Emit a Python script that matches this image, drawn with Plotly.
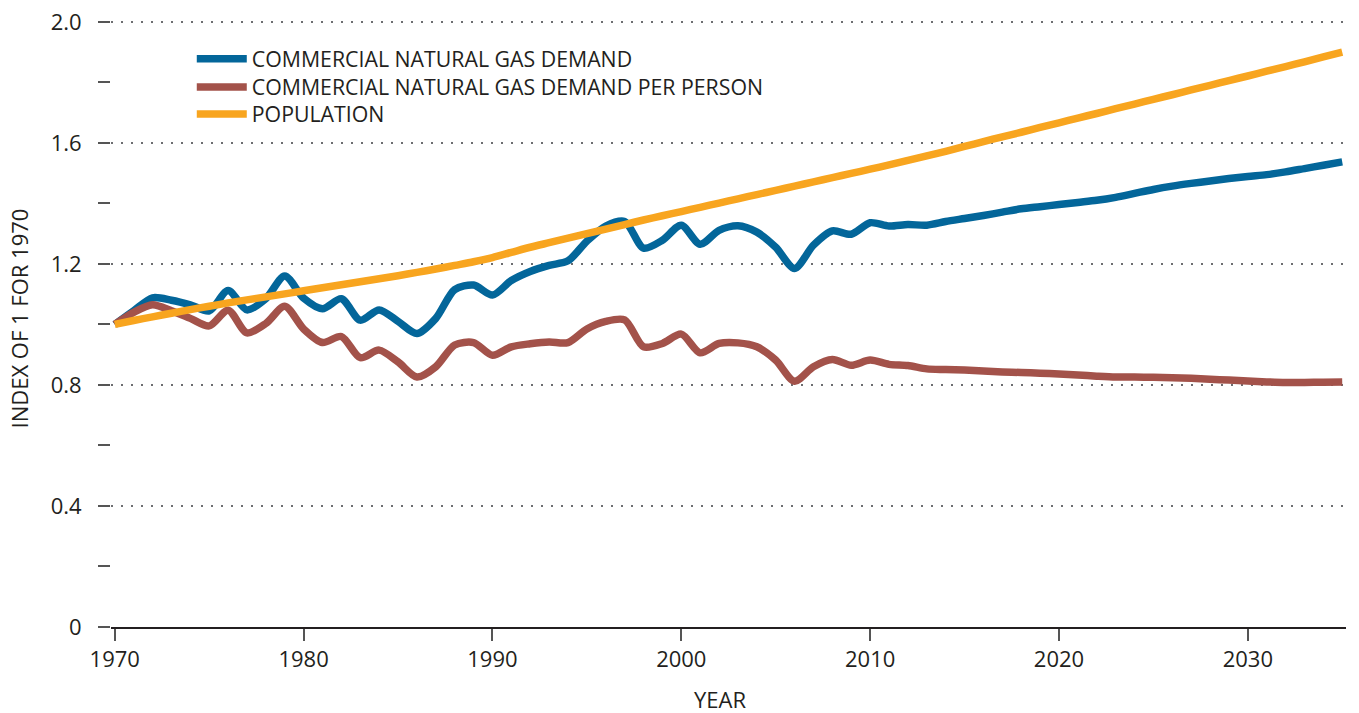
import plotly.graph_objects as go

years = list(range(1970, 2036))

gas_demand = [
    1.000, 1.045, 1.088, 1.080, 1.065, 1.045, 1.112, 1.048, 1.085, 1.160,
    1.087, 1.052, 1.085, 1.014, 1.048, 1.010, 0.970, 1.020, 1.115, 1.130,
    1.097, 1.145, 1.175, 1.195, 1.210, 1.275, 1.325, 1.340, 1.252, 1.278,
    1.328, 1.265, 1.311, 1.326, 1.305, 1.255, 1.185, 1.262, 1.309, 1.298,
    1.336, 1.325, 1.330, 1.328, 1.340, 1.350, 1.360, 1.371, 1.382, 1.389,
    1.396, 1.403, 1.410, 1.420, 1.433, 1.446, 1.457, 1.466, 1.474, 1.482,
    1.489, 1.495, 1.504, 1.515, 1.526, 1.537,
]

gas_per_person = [
    1.000, 1.040, 1.065, 1.045, 1.020, 0.995, 1.047, 0.972, 1.003, 1.060,
    0.985, 0.940, 0.960, 0.890, 0.915, 0.876, 0.826, 0.860, 0.932, 0.940,
    0.898, 0.926, 0.936, 0.942, 0.940, 0.985, 1.010, 1.015, 0.926, 0.937,
    0.968, 0.906, 0.937, 0.939, 0.926, 0.882, 0.812, 0.860, 0.884, 0.865,
    0.882, 0.868, 0.864, 0.853, 0.851, 0.849, 0.846, 0.843, 0.841, 0.839,
    0.836, 0.833, 0.829, 0.826, 0.826, 0.825, 0.824, 0.822, 0.819, 0.816,
    0.813, 0.810, 0.808, 0.808, 0.809, 0.810,
]

population = [
    1.000, 1.013, 1.025, 1.037, 1.049, 1.060, 1.071, 1.081, 1.091, 1.101,
    1.111, 1.121, 1.131, 1.141, 1.151, 1.161, 1.172, 1.183, 1.195, 1.207,
    1.221, 1.238, 1.255, 1.270, 1.285, 1.300, 1.315, 1.330, 1.345, 1.359,
    1.373, 1.387, 1.401, 1.415, 1.429, 1.443, 1.457, 1.471, 1.485, 1.499,
    1.513, 1.527, 1.542, 1.557, 1.572, 1.588, 1.604, 1.620, 1.635, 1.651,
    1.666, 1.682, 1.697, 1.713, 1.728, 1.744, 1.759, 1.775, 1.790, 1.806,
    1.821, 1.837, 1.852, 1.868, 1.884, 1.900,
]

series_names = [
    "COMMERCIAL NATURAL GAS DEMAND",
    "COMMERCIAL NATURAL GAS DEMAND PER PERSON",
    "POPULATION",
]
series_colors = ["#03669a", "#a3524a", "#f8a51f"]

x_tick_vals = [1970, 1980, 1990, 2000, 2010, 2020, 2030]
y_tick_vals = [0, 0.4, 0.8, 1.2, 1.6, 2.0]
y_tick_text = ["0", "0.4", "0.8", "1.2", "1.6", "2.0"]

FONT = "Open Sans"
TXT = "#231f20"

# page body has an 8px default margin; figure sized to fit the window
OFF = 8
W, H = 1359 - OFF, 713 - OFF
Y_MAX = 2.006
PLOT_LEFT, PLOT_RIGHT, PLOT_TOP, PLOT_BOTTOM = 111.2, 1346.5, 20.0, 626.7  # page px
L = PLOT_LEFT - OFF
R = W - (PLOT_RIGHT - OFF)
T = PLOT_TOP - OFF
B = H - (PLOT_BOTTOM - OFF)
plot_w = W - L - R
plot_h = H - T - B


def px_to_paper_x(px):
    return (px - PLOT_LEFT) / plot_w


def px_to_paper_y(py):
    return (PLOT_BOTTOM - py) / plot_h


legend_ids = ["legend", "legend2", "legend3"]
legend_centers_px = [59, 87, 114]

fig = go.Figure()
for name, vals, col, lid in zip(series_names, [gas_demand, gas_per_person, population],
                                series_colors, legend_ids):
    fig.add_trace(go.Scatter(
        x=years, y=vals, name=name, mode="lines", legend=lid,
        line=dict(color=col, width=7.5, shape="spline", smoothing=0.8),
    ))

legend_layout = {}
for lid, cy in zip(legend_ids, legend_centers_px):
    legend_layout[lid] = dict(
        x=px_to_paper_x(192), y=px_to_paper_y(cy),
        xanchor="left", yanchor="middle",
        bgcolor="rgba(0,0,0,0)",
        font=dict(size=21.3, family=FONT, color=TXT),
        itemwidth=50,
    )

fig.update_layout(
    width=W, height=H,
    margin=dict(l=L, r=R, t=T, b=B, autoexpand=False),
    plot_bgcolor="white", paper_bgcolor="white",
    font=dict(family=FONT, color=TXT, size=21),
    showlegend=True,
    **legend_layout,
    xaxis=dict(
        range=[1969.8, 2035.2], tickvals=x_tick_vals,
        showgrid=False, zeroline=False, automargin=False,
        showline=True, linecolor=TXT, linewidth=2,
        ticks="outside", ticklen=12, tickwidth=1.5, tickcolor="#555555",
        tickfont=dict(size=22, family=FONT, color=TXT),
        ticklabeloverflow="allow",
    ),
    yaxis=dict(
        range=[0, Y_MAX], tickvals=y_tick_vals, ticktext=y_tick_text,
        showgrid=True, gridcolor="#6d6e71", gridwidth=2, griddash="2px,8px",
        zeroline=False, showline=False, automargin=False,
        ticks="outside", ticklen=12, tickwidth=1.5, tickcolor="#555555",
        ticklabelstandoff=12, ticklabeloverflow="allow",
        tickfont=dict(size=22, family=FONT, color=TXT),
        minor=dict(dtick=0.2, ticks="outside", ticklen=12, tickwidth=1.5,
                   tickcolor="#555555", showgrid=False),
    ),
)

fig.add_annotation(
    text="INDEX OF 1 FOR 1970", textangle=-90,
    xref="paper", yref="paper",
    x=px_to_paper_x(19), y=px_to_paper_y(318.5),
    xanchor="center", yanchor="middle", showarrow=False,
    font=dict(size=22, family=FONT, color=TXT),
)
fig.add_annotation(
    text="YEAR",
    xref="paper", yref="paper",
    x=px_to_paper_x(720), y=px_to_paper_y(699),
    xanchor="center", yanchor="middle", showarrow=False,
    font=dict(size=22, family=FONT, color=TXT),
)

fig.write_html("out.html")
